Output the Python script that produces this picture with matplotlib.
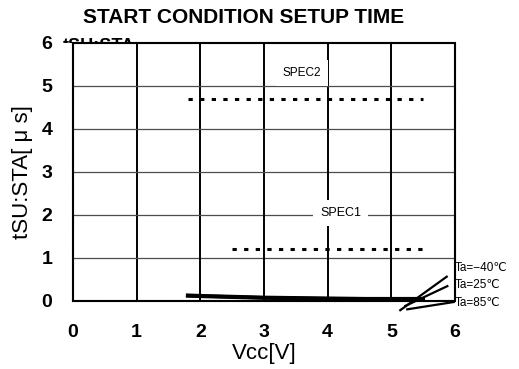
import matplotlib.pyplot as plt
from matplotlib.transforms import Bbox, TransformedBbox

plt.rcParams['font.family'] = ['Liberation Sans', 'DejaVu Sans']

# supply voltage points and measured setup time per temperature
vcc = [1.8, 2.0, 2.5, 3.0, 3.5, 4.0, 4.5, 5.0, 5.5]
t_m40 = [0.13, 0.12, 0.10, 0.08, 0.07, 0.06, 0.05, 0.05, 0.05]
t_25 = [0.12, 0.11, 0.09, 0.07, 0.06, 0.05, 0.05, 0.04, 0.04]
t_85 = [0.11, 0.10, 0.08, 0.06, 0.05, 0.04, 0.04, 0.04, 0.03]
temp_labels = ['Ta=\u221240\u2103', 'Ta=25\u2103', 'Ta=85\u2103']

# spec limits
spec2_x = [1.8, 5.5]
spec2_y = [4.7, 4.7]
spec1_x = [2.5, 5.5]
spec1_y = [1.2, 1.2]

ticks = [0, 1, 2, 3, 4, 5, 6]

fig = plt.figure(figsize=(5.19, 3.69), dpi=100)
ax = fig.add_axes([0.1407, 0.185, 0.736, 0.6985])
ax.set_xlim(0, 6)
ax.set_ylim(0, 6)

# grid: heavy verticals, light horizontals
for v in ticks[1:-1]:
    ax.axvline(v, color='black', lw=1.4, zorder=1)
    ax.axhline(v, color='0.3', lw=0.9, zorder=1)

ax.plot(spec2_x, spec2_y, color='black', lw=2.2, linestyle=(0, (1.4, 2.4)), zorder=3)
ax.plot(spec1_x, spec1_y, color='black', lw=2.2, linestyle=(0, (1.4, 2.4)), zorder=3)

for ys in (t_m40, t_25, t_85):
    ax.plot(vcc, ys, color='black', lw=2.4, zorder=3, clip_on=False)

ax.text(3.6, 5.3, 'SPEC2', fontsize=8.5, ha='center', va='center', zorder=4,
        bbox=dict(facecolor='white', edgecolor='none', pad=5))
ax.text(4.2, 2.05, 'SPEC1', fontsize=9, ha='center', va='center', zorder=4,
        bbox=dict(facecolor='white', edgecolor='none', pad=5))

# temperature call-outs to the right of the curves
starts = [(5.14, -0.22), (5.22, -0.12), (5.25, -0.2)]
ends = [(5.87, 0.56), (5.88, 0.34), (5.98, -0.03)]
label_pos = [(6.0, 0.76), (6.0, 0.36), (6.0, -0.05)]
for s, e, p, lab in zip(starts, ends, label_pos, temp_labels):
    ax.plot([s[0], e[0]], [s[1], e[1]], color='black', lw=1.6, clip_on=False)
    ax.text(p[0], p[1], lab, fontsize=8.5, ha='left', va='center', clip_on=False)

# parameter name sitting on the top border, only the upper half shows
t = ax.text(-0.16, 5.81, 'tSU:STA', fontsize=13, fontweight='bold', ha='left', va='baseline')
t.set_clip_box(TransformedBbox(Bbox([[0, 0.8835], [1, 1]]), fig.transFigure))
t.set_clip_on(True)

for sp in ax.spines.values():
    sp.set_linewidth(1.5)
    sp.set_linestyle((0, (1, 0.4)))
    sp.set_zorder(5)

ax.set_xticks(ticks)
ax.set_yticks(ticks)
ax.tick_params(length=0, labelsize=14)
ax.tick_params(axis='x', pad=17)
ax.tick_params(axis='y', pad=15)
for lab in ax.get_xticklabels() + ax.get_yticklabels():
    lab.set_fontweight('bold')

ax.set_xlabel('Vcc[V]', fontsize=16, labelpad=1)
ax.set_ylabel('tSU:STA[ \u03bc s]', fontsize=16)
ax.yaxis.set_label_coords(-0.105, 0.5)

fig.text(0.47, 0.953, 'START CONDITION SETUP TIME', fontsize=15, fontweight='bold',
         ha='center', va='center')

fig.savefig('out.png', dpi=100)
